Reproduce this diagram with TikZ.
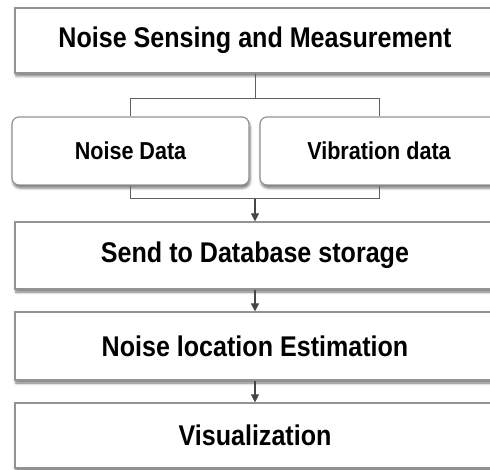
\documentclass[tikz,border=0pt]{standalone}
\usepackage{fontspec}
\setmainfont{Liberation Sans}[FakeStretch=0.88]
\usetikzlibrary{arrows.meta, shadows.blur, calc}
\tikzset{
    font=\bfseries,
    >={Triangle[width=8pt,length=8pt]},
    % Boxes
    stage/.style={rectangle, draw=gray!85, line width=1.2pt, fill=white,
                  minimum width=480pt, align=center, text=black,
                  font=\fontsize{28.5}{32}\selectfont\bfseries,
                  blur shadow={shadow xshift=1pt, shadow yshift=-3pt,
                               shadow blur radius=2.5pt, shadow opacity=55}},
    source/.style={stage, rounded corners=7pt, minimum width=237pt, minimum height=68pt,
                   font=\fontsize{24.5}{28}\selectfont\bfseries},
    % Connectors
    link/.style={draw=gray!75!black, line width=1pt},
    flow/.style={->, draw=gray!55!black, line width=1.2pt}
}
\begin{document}
\begin{tikzpicture}[x=1pt, y=-1pt]
\useasboundingbox (0,0) rectangle (490,470);

\node[stage, minimum height=65pt] (sense) at (255,40.5) {Noise Sensing and Measurement};
\node[source] (noise) at (130.5,151) {Noise Data};
\node[source, minimum width=238pt] (vib) at (379,151) {Vibration data};
\node[stage, minimum height=67pt] (store) at (255,255.5) {Send to Database storage};
\node[stage, minimum height=68pt] (locate) at (255,346) {Noise location Estimation};
\node[stage, minimum height=65pt] (visual) at (255,435.5) {Visualization};

\coordinate (split) at (255,99);
\coordinate (join) at (255,199);

% split into the two data sources
\draw[link] (sense.south) -- (split);
\draw[link] (noise.north) -- (noise.north |- split) -- (vib.north |- split) -- (vib.north);

% merge and pass down the chain
\draw[link] (noise.south) -- (noise.south |- join) -- (vib.south |- join) -- (vib.south);
\draw[flow] (join) -- (store.north);
\draw[flow] (store) -- (locate);
\draw[flow] (locate) -- (visual);

\end{tikzpicture}
\end{document}
